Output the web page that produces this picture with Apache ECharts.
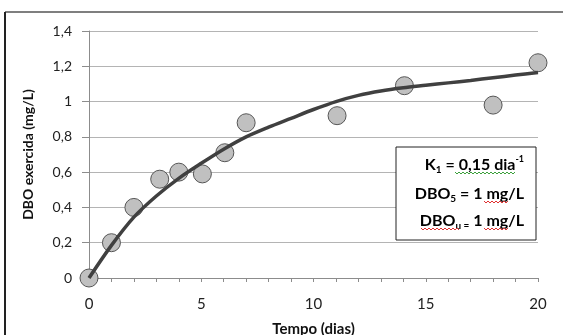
<!DOCTYPE html>
<html>
<head>
<meta charset="utf-8">
<script src="https://cdn.jsdelivr.net/npm/echarts@6/dist/echarts.min.js"></script>
<style>
  html, body { margin: 0; padding: 0; background: #fff; }
  #chart { width: 563px; height: 335px; }
</style>
</head>
<body>
<div id="chart"></div>
<script>
// pontos medidos
const obsDays = [0, 1, 2, 3.15, 4, 5.05, 6.05, 7, 11.05, 14.05, 18, 20];
const obsDBO = [0, 0.20, 0.40, 0.56, 0.60, 0.59, 0.71, 0.88, 0.92, 1.09, 0.98, 1.22];

// curva ajustada
const curveDays = [0, 1, 2, 3, 4, 5, 6, 7, 8, 9, 10, 11, 12, 13, 14, 15, 16, 17, 18, 19, 20];
const curveDBO = [0, 0.185, 0.345, 0.465, 0.565, 0.65, 0.73, 0.80, 0.855, 0.905, 0.955, 1.0, 1.035, 1.06, 1.078, 1.092, 1.106, 1.12, 1.135, 1.15, 1.165];

const yTicks = ['0', '0,2', '0,4', '0,6', '0,8', '1', '1,2', '1,4'];

const font = 'Lato, "Open Sans", sans-serif';

// sublinhado ondulado do corretor (decoracao)
function wavy(x1, x2, y, color) {
  const pts = [];
  let up = true;
  for (let x = x1; x <= x2; x += 2) {
    pts.push([x, up ? y - 1 : y + 1]);
    up = !up;
  }
  return { type: 'polyline', z: 12, silent: true, shape: { points: pts }, style: { stroke: color, lineWidth: 1, fill: null } };
}

const boxRich = {
  b: { fontFamily: font, fontWeight: 'bold', fontSize: 16, color: '#111', lineHeight: 20, verticalAlign: 'middle' },
  sub: { fontFamily: font, fontWeight: 'bold', fontSize: 10, color: '#111', lineHeight: 20, verticalAlign: 'bottom' },
  sup: { fontFamily: font, fontWeight: 'bold', fontSize: 9, color: '#111', lineHeight: 20, verticalAlign: 'top' }
};

const chart = echarts.init(document.getElementById('chart'));

const option = {
  animation: false,
  textStyle: { fontFamily: font },
  grid: { left: 89, top: 31, right: 25, bottom: 57, containLabel: false, outerBoundsMode: 'none' },
  xAxis: {
    type: 'value',
    min: 0,
    max: 20,
    interval: 1,
    name: 'Tempo (dias)',
    nameLocation: 'middle',
    nameGap: 44,
    nameTextStyle: { fontFamily: font, fontWeight: 'bold', fontSize: 15, color: '#111' },
    axisLine: { show: true, lineStyle: { color: '#8c8c8c', width: 1 } },
    axisTick: { show: true, length: 4, inside: false, lineStyle: { color: '#8c8c8c' } },
    splitLine: { show: false },
    axisLabel: {
      margin: 19,
      fontSize: 15,
      color: '#222',
      fontFamily: font,
      formatter: function (v) { return v % 5 === 0 ? String(v) : ''; }
    }
  },
  yAxis: {
    type: 'value',
    min: 0,
    max: 1.4,
    interval: 0.2,
    name: 'DBO exercida (mg/L)',
    nameLocation: 'middle',
    nameGap: 54,
    nameTextStyle: { fontFamily: font, fontWeight: 'bold', fontSize: 14, color: '#111' },
    axisLine: { show: true, lineStyle: { color: '#8c8c8c', width: 1 } },
    axisTick: { show: true, length: 7, lineStyle: { color: '#8c8c8c' } },
    splitLine: { show: true, lineStyle: { color: '#b4b4b4', width: 1 } },
    axisLabel: {
      margin: 17,
      fontSize: 14,
      color: '#222',
      fontFamily: font,
      formatter: function (v) { return yTicks[Math.round(v / 0.2)]; }
    }
  },
  series: [
    {
      type: 'scatter',
      data: obsDays.map((d, i) => [d, obsDBO[i]]),
      symbol: 'circle',
      symbolSize: 18,
      z: 2,
      itemStyle: { color: '#c0c0c0', borderColor: '#555', borderWidth: 1, opacity: 1 }
    },
    {
      type: 'line',
      data: curveDays.map((d, i) => [d, curveDBO[i]]),
      smooth: 0.3,
      showSymbol: false,
      symbol: 'none',
      z: 3,
      lineStyle: { color: '#404040', width: 3.5 }
    }
  ],
  graphic: [
    // moldura externa
    { type: 'line', shape: { x1: 5, y1: 12, x2: 563, y2: 12 }, style: { stroke: '#555', lineWidth: 1.5 }, silent: true },
    { type: 'line', shape: { x1: 5, y1: 12, x2: 5, y2: 335 }, style: { stroke: '#222', lineWidth: 2 }, silent: true },
    // caixa de texto
    {
      type: 'rect',
      shape: { x: 396, y: 147, width: 140, height: 93 },
      style: { fill: '#fff', stroke: '#222', lineWidth: 1 },
      z: 10
    },
    {
      type: 'text', x: 524, y: 165, z: 11,
      style: { text: '{b|K}{sub|1}{b| = 0,15 dia}{sup|-1}', align: 'right', verticalAlign: 'middle', rich: boxRich }
    },
    {
      type: 'text', x: 524, y: 194, z: 11,
      style: { text: '{b|DBO}{sub|5}{b| = 1 mg/L}', align: 'right', verticalAlign: 'middle', rich: boxRich }
    },
    {
      type: 'text', x: 524, y: 221, z: 11,
      style: { text: '{b|DBO}{sub|u =}{b| 1 mg/L}', align: 'right', verticalAlign: 'middle', rich: boxRich }
    },
    wavy(455, 515, 173, '#3aa03a'),
    wavy(484, 508, 202, '#e03030'),
    wavy(421, 459, 229, '#e03030'),
    wavy(484, 508, 229, '#e03030')
  ]
};

chart.setOption(option);
window.addEventListener('resize', chart.resize);
</script>
</body>
</html>
